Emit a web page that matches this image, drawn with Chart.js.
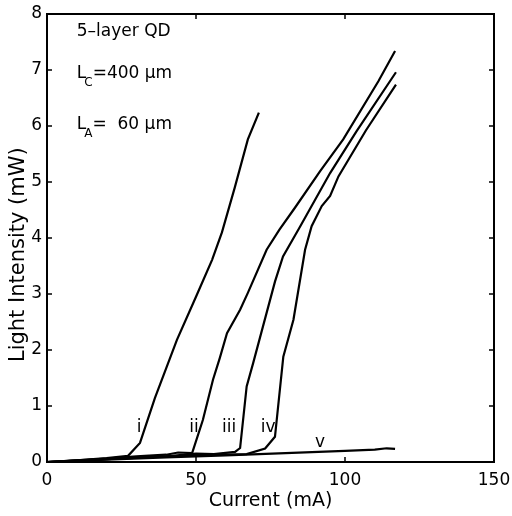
<!DOCTYPE html>
<html>
<head>
<meta charset="utf-8">
<script src="https://cdn.jsdelivr.net/npm/chart.js@4"></script>
<style>
  html, body { margin: 0; padding: 0; background: #fff; }
  #chart { display: block; }
</style>
</head>
<body>
<canvas id="chart" width="512" height="516"></canvas>
<script>
// Data (current in mA, light intensity in mW)
const currentI = [0, 10, 20, 27.2, 31.2, 36.2, 43.6, 50, 55.4, 58.7, 63, 67.4, 71.1];
const powerI = [0, 0.03, 0.07, 0.11, 0.34, 1.14, 2.18, 2.95, 3.61, 4.1, 4.9, 5.76, 6.24];

const currentII = [0, 10, 20, 30, 40, 44, 48.7, 52.3, 55.7, 58, 60.4, 64.8, 67.4, 73.7, 78, 83.2, 91.6, 99.4, 111.2, 116.8];
const powerII = [0, 0.03, 0.06, 0.1, 0.13, 0.17, 0.16, 0.75, 1.47, 1.86, 2.3, 2.72, 3.02, 3.79, 4.15, 4.54, 5.19, 5.76, 6.8, 7.34];

const currentIII = [0, 20, 40, 50, 56, 63.1, 64.8, 67, 69.2, 76.5, 79.2, 84.9, 95, 103.9, 117.1];
const powerIII = [0, 0.05, 0.1, 0.15, 0.14, 0.18, 0.25, 1.35, 1.77, 3.22, 3.67, 4.2, 5.16, 5.91, 6.96];

const currentIV = [0, 20, 40, 60, 67, 73.2, 76.5, 79.3, 82.7, 86.6, 88.8, 92.2, 95, 97.8, 107, 117.1];
const powerIV = [0, 0.05, 0.1, 0.13, 0.14, 0.24, 0.45, 1.88, 2.54, 3.79, 4.21, 4.57, 4.75, 5.1, 5.92, 6.74];

const currentV = [0, 20, 40, 60, 80, 100, 110, 114, 116.8];
const powerV = [0, 0.04, 0.08, 0.12, 0.16, 0.2, 0.22, 0.245, 0.235];

// Curve labels
const curveNames = ["i", "ii", "iii", "iv", "v"];
const curveLabelX = [30.9, 49.3, 61.1, 74.2, 91.6];
const curveLabelY = [0.54, 0.54, 0.54, 0.54, 0.26];

// Axis ticks
const xTicks = [0, 50, 100, 150];
const yTicks = [0, 1, 2, 3, 4, 5, 6, 7, 8];

const FONT = "'DejaVu Sans', sans-serif";

function toPoints(xs, ys) {
  return xs.map(function (x, i) {
    return { x: x, y: ys[i] };
  });
}

function curve(xs, ys) {
  return {
    data: toPoints(xs, ys),
    borderColor: "#000",
    borderWidth: 2.2,
    pointRadius: 0,
    tension: 0,
    fill: false,
  };
}

// Box around the plot with ticks pointing inwards, plus the text notes
const framePlugin = {
  id: "frame",
  afterDraw(chart) {
    const ctx = chart.ctx;
    const area = chart.chartArea;
    const xs = chart.scales.x;
    const ys = chart.scales.y;
    ctx.save();
    ctx.strokeStyle = "#000";
    ctx.lineWidth = 2;
    ctx.strokeRect(area.left, area.top, area.right - area.left, area.bottom - area.top);

    ctx.lineWidth = 1.5;
    const len = 5;
    ctx.beginPath();
    xTicks.forEach(function (v) {
      const px = xs.getPixelForValue(v);
      ctx.moveTo(px, area.bottom);
      ctx.lineTo(px, area.bottom - len);
      ctx.moveTo(px, area.top);
      ctx.lineTo(px, area.top + len);
    });
    yTicks.forEach(function (v) {
      const py = ys.getPixelForValue(v);
      ctx.moveTo(area.left, py);
      ctx.lineTo(area.left + len, py);
      ctx.moveTo(area.right, py);
      ctx.lineTo(area.right - len, py);
    });
    ctx.stroke();

    // curve labels
    ctx.fillStyle = "#000";
    ctx.font = "17px " + FONT;
    ctx.textAlign = "center";
    ctx.textBaseline = "alphabetic";
    curveNames.forEach(function (name, i) {
      ctx.fillText(name, xs.getPixelForValue(curveLabelX[i]), ys.getPixelForValue(curveLabelY[i]));
    });

    // notes in the top left corner
    ctx.textAlign = "left";
    const nx = xs.getPixelForValue(10);
    ctx.font = "17px " + FONT;
    ctx.fillText("5\u2013layer QD", nx, ys.getPixelForValue(7.6));

    function subText(main, sub, rest, yv) {
      const py = ys.getPixelForValue(yv);
      ctx.font = "17px " + FONT;
      ctx.fillText(main, nx, py);
      let x = nx + ctx.measureText(main).width - 2;
      ctx.font = "12px " + FONT;
      ctx.fillText(sub, x, py + 8);
      x += ctx.measureText(sub).width;
      ctx.font = "17px " + FONT;
      ctx.fillText(rest, x, py);
    }
    subText("L", "C", "=400 \u03bcm", 6.85);
    subText("L", "A", "=  60 \u03bcm", 5.95);
    ctx.restore();
  },
};

const canvasRef = document.getElementById("chart");

const myChart = new Chart(canvasRef, {
  type: "line",
  data: {
    datasets: [
      curve(currentI, powerI),
      curve(currentII, powerII),
      curve(currentIII, powerIII),
      curve(currentIV, powerIV),
      curve(currentV, powerV),
    ],
  },
  options: {
    responsive: false,
    animation: false,
    devicePixelRatio: 1,
    layout: { padding: { top: 14, right: 18, left: 0, bottom: 0 } },
    plugins: {
      legend: { display: false },
      tooltip: { enabled: false },
    },
    scales: {
      x: {
        type: "linear",
        min: 0,
        max: 150,
        afterFit(scale) {
          scale.height = 54;
          scale.paddingLeft = 0;
          scale.paddingRight = 0;
        },
        afterBuildTicks(scale) {
          scale.ticks = xTicks.map(function (v) { return { value: v }; });
        },
        grid: { display: false, drawTicks: false },
        border: { display: false },
        ticks: { color: "#000", font: { family: FONT, size: 17 }, padding: 8, maxRotation: 0 },
        title: {
          display: true,
          text: "Current (mA)",
          color: "#000",
          font: { family: FONT, size: 19 },
          padding: { top: 0, bottom: 4 },
        },
      },
      y: {
        min: 0,
        max: 8,
        afterFit(scale) {
          scale.width = 47;
          scale.paddingTop = 0;
          scale.paddingBottom = 0;
        },
        afterBuildTicks(scale) {
          scale.ticks = yTicks.map(function (v) { return { value: v }; });
        },
        grid: { display: false, drawTicks: false },
        border: { display: false },
        ticks: { color: "#000", font: { family: FONT, size: 17 }, padding: 5 },
        title: {
          display: true,
          text: "Light Intensity (mW)\u00a0\u00a0\u00a0\u00a0\u00a0",
          color: "#000",
          font: { family: FONT, size: 21 },
          padding: { top: 6, bottom: 0 },
        },
      },
    },
  },
  plugins: [framePlugin],
});
</script>
</body>
</html>
